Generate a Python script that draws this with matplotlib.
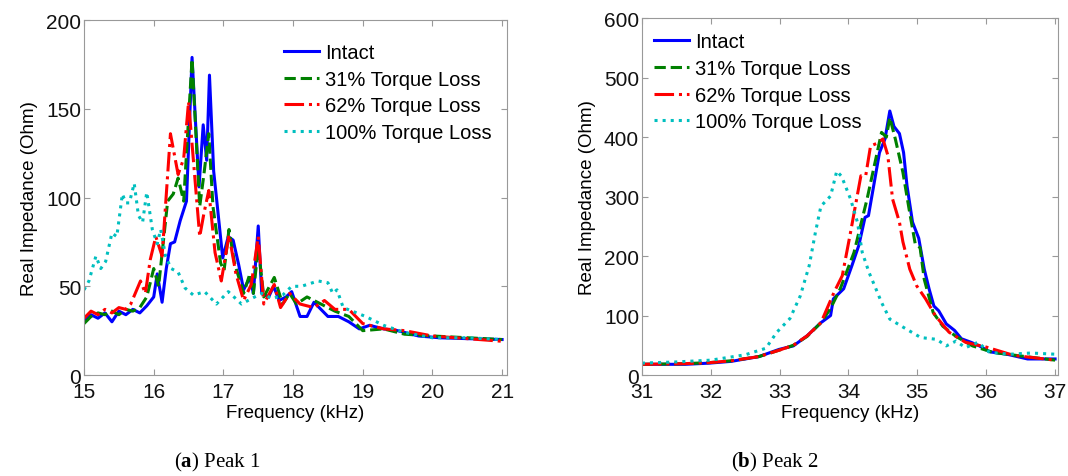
import matplotlib
matplotlib.use('Agg')
import matplotlib.pyplot as plt

# ---- Peak 1 (left) ----
p1_intact_f = [15.0, 15.1, 15.2, 15.3, 15.4, 15.5, 15.6, 15.7, 15.8, 15.9, 16.0, 16.05, 16.12, 16.18,
               16.24, 16.3, 16.38, 16.47, 16.55, 16.65, 16.71, 16.76, 16.8, 16.86, 16.9, 16.99, 17.07,
               17.14, 17.22, 17.29, 17.38, 17.43, 17.5, 17.55, 17.65, 17.72, 17.8, 17.9, 17.98, 18.1,
               18.2, 18.3, 18.4, 18.5, 18.65, 18.8, 18.95, 19.1, 19.3, 19.5, 19.8, 20.1, 20.5, 21.0]
p1_intact_v = [31, 34, 32, 35, 30, 36, 34, 37, 35, 39, 44, 57, 41, 60,
               74, 75, 87, 98, 179, 106, 141, 121, 169, 115, 100, 66, 78,
               76, 62, 48, 55, 46, 84, 46, 44, 50, 42, 44, 47, 33,
               33, 41, 37, 33, 33, 30, 26, 28, 26, 25, 22, 21, 20.5, 20]

p1_31_f = [15.0, 15.1, 15.2, 15.3, 15.4, 15.5, 15.6, 15.7, 15.8, 15.9, 16.0, 16.07, 16.2, 16.28,
           16.35, 16.43, 16.55, 16.66, 16.72, 16.79, 16.85, 16.96, 17.01, 17.08, 17.16, 17.29, 17.38,
           17.43, 17.5, 17.58, 17.73, 17.85, 17.95, 18.05, 18.2, 18.4, 18.6, 18.8, 19.0, 19.3, 19.6,
           20.0, 20.5, 21.0]
p1_31_v = [29, 33, 35, 34, 36, 34, 37, 36, 38, 44, 60, 50, 98, 102,
           111, 98, 178, 95, 113, 136, 95, 63, 59, 82, 63, 46, 57,
           46, 72, 44, 55, 40, 46, 40, 44, 40, 36, 33, 25, 26, 23,
           22, 21, 20]

p1_62_f = [15.0, 15.1, 15.2, 15.3, 15.4, 15.5, 15.6, 15.67, 15.81, 15.88, 15.95, 16.03, 16.12, 16.24,
           16.35, 16.43, 16.5, 16.58, 16.66, 16.72, 16.79, 16.88, 16.97, 17.08, 17.18, 17.29, 17.4,
           17.5, 17.58, 17.73, 17.82, 17.95, 18.1, 18.3, 18.45, 18.6, 18.8, 19.0, 19.3, 19.6, 20.0,
           20.5, 21.0]
p1_62_v = [32, 36, 34, 37, 35, 38, 37, 40, 53, 46, 65, 78, 67, 136,
           113, 122, 154, 116, 78, 91, 104, 69, 53, 79, 57, 42, 51,
           78, 40, 51, 38, 46, 40, 38, 42, 37, 37, 29, 26, 25, 22,
           20.5, 19]

p1_100_f = [15.0, 15.07, 15.17, 15.24, 15.31, 15.4, 15.47, 15.55, 15.6, 15.65, 15.72, 15.78, 15.84,
            15.9, 15.98, 16.05, 16.1, 16.17, 16.25, 16.35, 16.45, 16.57, 16.73, 16.9, 17.07, 17.26,
            17.4, 17.55, 17.7, 17.85, 17.98, 18.12, 18.36, 18.5, 18.57, 18.63, 18.72, 18.85, 19.04,
            19.3, 19.6, 20.0, 20.5, 21.0]
p1_100_v = [48, 53, 67, 60, 64, 80, 78, 102, 97, 97, 108, 90, 86,
            103, 82, 74, 82, 67, 60, 58, 49, 45, 47, 40, 47, 40,
            43, 46, 43, 45, 50, 50, 53, 52, 46, 48, 38, 36, 33,
            28, 24, 21, 21, 20]

# ---- Peak 2 (right) ----
p2_intact_f = [31.0, 31.63, 31.98, 32.3, 32.7, 32.99, 33.2, 33.4, 33.6, 33.74, 33.78, 33.93, 34.05,
               34.15, 34.24, 34.29, 34.45, 34.53, 34.6, 34.66, 34.74, 34.8, 34.85, 34.93, 35.02,
               35.1, 35.17, 35.24, 35.31, 35.42, 35.54, 35.64, 35.78, 35.9, 36.05, 36.3, 36.6, 37.0]
p2_intact_v = [18, 18, 20, 23, 31, 43, 49, 66, 88, 100, 128, 145, 184,
               218, 265, 268, 374, 397, 444, 418, 406, 374, 318, 257, 230,
               178, 145, 116, 108, 86, 75, 61, 55, 49, 39, 35, 27, 27]

p2_31_f = [31.0, 31.6, 32.0, 32.3, 32.7, 33.0, 33.2, 33.4, 33.6, 33.74, 33.88, 34.08, 34.27, 34.48,
           34.55, 34.6, 34.68, 34.79, 34.88, 34.97, 35.04, 35.1, 35.23, 35.37, 35.56, 35.8, 36.1,
           36.5, 37.0]
p2_31_v = [18, 19, 21, 24, 31, 42, 50, 65, 88, 112, 145, 206, 296, 408,
           400, 433, 397, 341, 279, 220, 214, 161, 105, 82, 65, 49, 38,
           32, 25]

p2_62_f = [31.0, 31.6, 32.0, 32.3, 32.7, 33.0, 33.2, 33.4, 33.6, 33.79, 33.91, 34.03, 34.18, 34.25,
           34.32, 34.42, 34.5, 34.57, 34.64, 34.74, 34.79, 34.89, 34.99, 35.12, 35.26, 35.46, 35.7,
           36.0, 36.4, 37.0]
p2_62_v = [18, 19, 21, 24, 31, 42, 50, 66, 88, 139, 167, 240, 335, 335,
           385, 390, 397, 370, 296, 257, 224, 178, 150, 128, 100, 72, 55,
           47, 33, 25]

p2_100_f = [31.0, 31.5, 32.0, 32.5, 32.8, 32.96, 33.15, 33.3, 33.43, 33.52, 33.6, 33.74, 33.83,
            33.9, 34.03, 34.13, 34.2, 34.3, 34.38, 34.48, 34.6, 34.8, 35.05, 35.28, 35.42, 35.56,
            35.7, 35.88, 36.05, 36.35, 36.65, 37.0]
p2_100_v = [20, 22, 25, 34, 45, 72, 95, 133, 184, 240, 284, 301, 343,
            334, 296, 257, 206, 172, 150, 122, 94, 80, 63, 60, 49, 57,
            46, 55, 38, 35, 37, 35]

labels = ['Intact', '31% Torque Loss', '62% Torque Loss', '100% Torque Loss']
colors = ['#0000ff', '#008000', '#ff0000', '#00bfbf']
styles = ['-', '--', '-.', ':']

plt.rcParams['font.family'] = 'Liberation Sans'
plt.rcParams['mathtext.fontset'] = 'custom'
plt.rcParams['mathtext.rm'] = 'Liberation Serif'
plt.rcParams['mathtext.bf'] = 'Liberation Serif:bold'

fig = plt.figure(figsize=(10.68, 4.77), dpi=100)
ax1 = fig.add_axes([0.0787, 0.2117, 0.396, 0.744])
ax2 = fig.add_axes([0.601, 0.2117, 0.3895, 0.748])


def draw(ax, series, xlim, ylim, xticks, yticks, legend_anchor):
    for (f, v), lab, c, ls in zip(series, labels, colors, styles):
        ax.plot(f, v, color=c, linestyle=ls, linewidth=2.2, label=lab)
    ax.set_xlim(*xlim)
    ax.set_ylim(*ylim)
    ax.set_xticks(xticks)
    ax.set_yticks(yticks)
    ax.tick_params(direction='in', top=True, right=True, length=4, labelsize=15,
                   color='#999999', labelcolor='#111111')
    ax.tick_params(axis='x', pad=5)
    ax.tick_params(axis='y', pad=2)
    for sp in ax.spines.values():
        sp.set_color('#999999')
        sp.set_linewidth(0.8)
    ax.set_xlabel('Frequency (kHz)', fontsize=13.5, labelpad=2)
    ax.set_ylabel('Real Impedance (Ohm)', fontsize=13.5, labelpad=6)
    ax.legend(loc='upper left', bbox_to_anchor=legend_anchor, frameon=False, fontsize=14.5,
              handlelength=1.75, handletextpad=0.3, labelspacing=0.38, borderaxespad=0)


draw(ax1, [(p1_intact_f, p1_intact_v), (p1_31_f, p1_31_v), (p1_62_f, p1_62_v), (p1_100_f, p1_100_v)],
     (15, 21.07), (0, 200), range(15, 22), range(0, 201, 50), (0.454, 0.958))
draw(ax2, [(p2_intact_f, p2_intact_v), (p2_31_f, p2_31_v), (p2_62_f, p2_62_v), (p2_100_f, p2_100_v)],
     (31, 37.04), (0, 600), range(31, 38), range(0, 601, 100), (0.01, 0.983))

fig.text(0.203, 0.031, r'($\mathbf{a}$) Peak 1', fontsize=15, ha='center', va='center',
         family='Liberation Serif')
fig.text(0.726, 0.031, r'($\mathbf{b}$) Peak 2', fontsize=15, ha='center', va='center',
         family='Liberation Serif')

fig.savefig('out.png', dpi=100)
